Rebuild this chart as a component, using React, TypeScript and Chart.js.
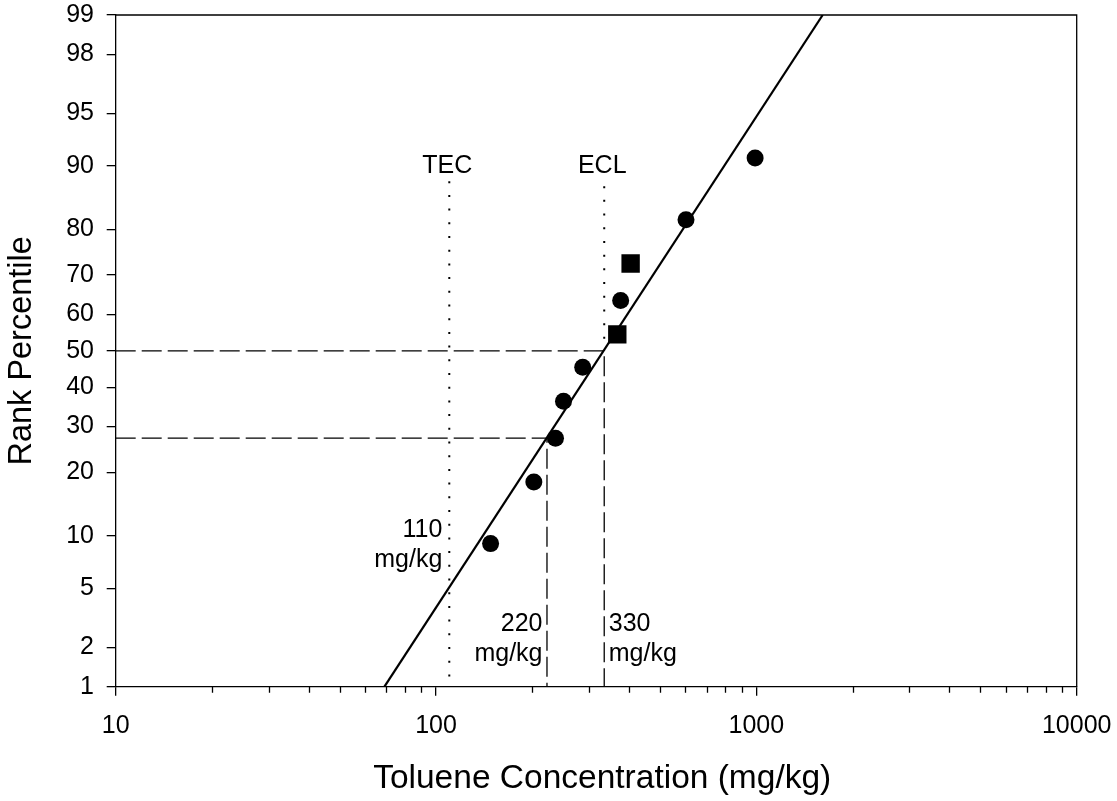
import React, { useEffect, useRef } from 'react';
import { Chart, registerables } from 'chart.js';

Chart.register(...registerables);

const FONT = "'Liberation Sans', Arial, Helvetica, sans-serif";

// ---- data ----
const X_TICKS = [10, 100, 1000, 10000];
const X_MINOR_DECADES = [10, 100, 1000];
const X_MINOR_STEPS = [2, 3, 4, 5, 6, 7, 8, 9];
const Y_TICKS = [1, 2, 5, 10, 20, 30, 40, 50, 60, 70, 80, 90, 95, 98, 99];

const CIRCLE_X = [148, 202, 236, 250, 287, 377, 603, 991];
const CIRCLE_P = [9.09, 18.18, 27.27, 36.36, 45.45, 63.64, 81.82, 90.91];
const SQUARE_X = [368, 405];
const SQUARE_P = [54.55, 72.73];

const FIT_X = [69, 1611];
const FIT_P = [1, 99];

const TEC_X = [110, 110];
const TEC_P = [1, 88];
const ECL_DOT_X = [335, 335];
const ECL_DOT_P = [50, 87.3];
const ECL_DASH_X = [10, 335, 335];
const ECL_DASH_P = [50, 50, 1];
const P27_DASH_X = [10, 222, 222];
const P27_DASH_P = [27.27, 27.27, 1];

const X_TITLE = 'Toluene Concentration (mg/kg)';
const Y_TITLE = 'Rank Percentile';

const NOTE_TEXT = [['TEC'], ['ECL'], ['110', 'mg/kg'], ['220', 'mg/kg'], ['330', 'mg/kg']];
const NOTE_X = [110, 335, 110, 222, 335];
const NOTE_P = [89.1, 89.1, 9.86, 2.61, 2.61];

// inverse normal CDF (Acklam)
function probit(p: number): number {
  const a = [-3.969683028665376e1, 2.209460984245205e2, -2.759285104469687e2, 1.38357751867269e2, -3.066479806614716e1, 2.506628277459239];
  const b = [-5.447609879822406e1, 1.615858368580409e2, -1.556989798598866e2, 6.680131188771972e1, -1.328068155288572e1];
  const c = [-7.784894002430293e-3, -3.223964580411365e-1, -2.400758277161838, -2.549732539343734, 4.374664141464968, 2.938163982698783];
  const d = [7.784695709041462e-3, 3.224671290700398e-1, 2.445134137142996, 3.754408661907416];
  const pl = 0.02425;
  const ph = 1 - pl;
  if (p < pl) {
    const q = Math.sqrt(-2 * Math.log(p));
    return (((((c[0] * q + c[1]) * q + c[2]) * q + c[3]) * q + c[4]) * q + c[5]) / ((((d[0] * q + d[1]) * q + d[2]) * q + d[3]) * q + 1);
  }
  if (p <= ph) {
    const q = p - 0.5;
    const r = q * q;
    return ((((((a[0] * r + a[1]) * r + a[2]) * r + a[3]) * r + a[4]) * r + a[5]) * q) / (((((b[0] * r + b[1]) * r + b[2]) * r + b[3]) * r + b[4]) * r + 1);
  }
  const q = Math.sqrt(-2 * Math.log(1 - p));
  return -(((((c[0] * q + c[1]) * q + c[2]) * q + c[3]) * q + c[4]) * q + c[5]) / ((((d[0] * q + d[1]) * q + d[2]) * q + d[3]) * q + 1);
}

const pts = (xs: number[], ps: number[]) => xs.map((x, i) => ({ x, y: probit(ps[i] / 100) }));

const decorPlugin = {
  id: 'decor',
  afterDraw(chart: any) {
    const { ctx, chartArea } = chart;
    const xs = chart.scales.x;
    const ys = chart.scales.y;
    ctx.save();
    // box top & right
    ctx.strokeStyle = '#000';
    ctx.lineWidth = 1.3;
    ctx.beginPath();
    ctx.moveTo(chartArea.left, chartArea.top);
    ctx.lineTo(chartArea.right, chartArea.top);
    ctx.lineTo(chartArea.right, chartArea.bottom);
    ctx.stroke();
    // minor x ticks
    ctx.beginPath();
    X_MINOR_DECADES.forEach((dec) => {
      X_MINOR_STEPS.forEach((s) => {
        const px = Math.round(xs.getPixelForValue(dec * s)) + 0.5;
        ctx.moveTo(px, chartArea.bottom);
        ctx.lineTo(px, chartArea.bottom + 6);
      });
    });
    ctx.stroke();
    // x axis title
    ctx.fillStyle = '#000';
    ctx.font = `33.5px ${FONT}`;
    ctx.textAlign = 'center';
    ctx.textBaseline = 'alphabetic';
    ctx.fillText(X_TITLE, (chartArea.left + chartArea.right) / 2 + 6, xs.bottom - 12.7);
    // notes
    ctx.font = `25px ${FONT}`;
    NOTE_TEXT.forEach((lines, i) => {
      const px = xs.getPixelForValue(NOTE_X[i]);
      const py = ys.getPixelForValue(probit(NOTE_P[i] / 100));
      let align: CanvasTextAlign = 'center';
      let dx = -2;
      if (i === 2 || i === 3) {
        align = 'right';
        dx = i === 2 ? -7 : -4.5;
      } else if (i === 4) {
        align = 'left';
        dx = 4.5;
      }
      ctx.textAlign = align;
      lines.forEach((t, j) => ctx.fillText(t, px + dx, py + j * 29.5));
    });
    ctx.restore();
  },
};

export default function App() {
  const ref = useRef<HTMLCanvasElement | null>(null);
  useEffect(() => {
    if (!ref.current) return;
    Chart.defaults.font.family = FONT;
    const chart = new Chart(ref.current, {
      type: 'scatter',
      data: {
        datasets: [
          {
            data: pts(CIRCLE_X, CIRCLE_P),
            pointStyle: 'circle',
            pointRadius: 8.5,
            backgroundColor: '#000',
            borderWidth: 0,
            showLine: false,
          },
          {
            data: pts(SQUARE_X, SQUARE_P),
            pointStyle: 'rect',
            pointRadius: 13,
            backgroundColor: '#000',
            borderWidth: 0,
            showLine: false,
          },
          {
            data: pts(FIT_X, FIT_P),
            showLine: true,
            pointRadius: 0,
            borderColor: '#000',
            borderWidth: 2.2,
          },
          {
            data: pts(ECL_DASH_X, ECL_DASH_P),
            showLine: true,
            pointRadius: 0,
            borderColor: '#000',
            borderWidth: 1.3,
            borderDash: [20, 6],
          },
          {
            data: pts(P27_DASH_X, P27_DASH_P),
            showLine: true,
            pointRadius: 0,
            borderColor: '#000',
            borderWidth: 1.3,
            borderDash: [20, 6],
          },
          {
            data: pts(TEC_X, TEC_P).reverse(),
            showLine: true,
            pointRadius: 0,
            borderColor: '#000',
            borderWidth: 2,
            borderDash: [2, 11.7],
          },
          {
            data: pts(ECL_DOT_X, ECL_DOT_P).reverse(),
            showLine: true,
            pointRadius: 0,
            borderColor: '#000',
            borderWidth: 2,
            borderDash: [2, 11.7],
          },
        ],
      },
      options: {
        responsive: false,
        animation: false,
        events: [],
        layout: { padding: { top: 15, right: 40.3, left: 0, bottom: 0 } },
        plugins: { legend: { display: false }, tooltip: { enabled: false } },
        scales: {
          x: {
            type: 'logarithmic',
            position: 'bottom',
            min: 10,
            max: 10000,
            afterBuildTicks: (s: any) => {
              s.ticks = X_TICKS.map((v) => ({ value: v }));
            },
            afterFit: (s: any) => {
              s.height = 114.3;
              s.paddingLeft = 0;
              s.paddingRight = 0;
            },
            ticks: {
              autoSkip: false,
              maxRotation: 0,
              padding: 15,
              color: '#000',
              font: { family: FONT, size: 25 },
              callback: (v: any) => String(v),
            },
            grid: { drawOnChartArea: false, drawTicks: true, tickLength: 9, color: '#000', lineWidth: 1.3 },
            border: { display: true, color: '#000', width: 1.3 },
            title: { display: false, text: X_TITLE },
          },
          y: {
            type: 'linear',
            min: probit(0.01),
            max: probit(0.99),
            afterBuildTicks: (s: any) => {
              s.ticks = Y_TICKS.map((p) => ({ value: probit(p / 100) }));
            },
            afterFit: (s: any) => {
              s.width = 115.7;
              s.paddingTop = 0;
              s.paddingBottom = 0;
            },
            ticks: {
              autoSkip: false,
              padding: 12.7,
              color: '#000',
              font: { family: FONT, size: 25 },
              callback: (_v: any, i: number) => String(Y_TICKS[i]),
            },
            grid: { drawOnChartArea: false, drawTicks: true, tickLength: 9, color: '#000', lineWidth: 1.3 },
            border: { display: true, color: '#000', width: 1.3 },
            title: {
              display: true,
              text: Y_TITLE,
              color: '#000',
              font: { family: FONT, size: 32.5 },
              padding: { top: 2.5, bottom: 0 },
            },
          },
        },
      },
      plugins: [decorPlugin],
    } as any);
    return () => chart.destroy();
  }, []);
  return (
    <div style={{ position: 'absolute', left: 0, top: 0, width: 1117, height: 801, background: '#fff' }}>
      <canvas ref={ref} width={1117} height={801} style={{ display: 'block' }} />
    </div>
  );
}
